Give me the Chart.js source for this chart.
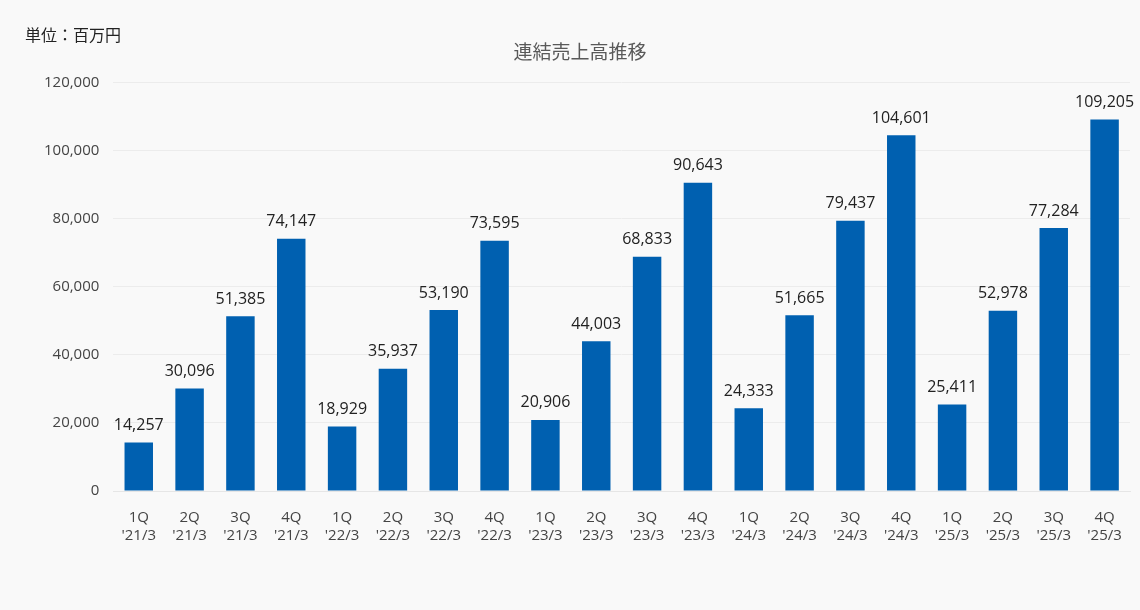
<!DOCTYPE html>
<html>
<head>
<meta charset="utf-8">
<script src="https://cdn.jsdelivr.net/npm/chart.js@4"></script>
<style>
  body { margin: 0; background: #f9f9f9; }
  #wrap { position: relative; width: 1140px; height: 610px; }
  #unit { position: absolute; left: 25px; top: 22px; font: 16px "Noto Sans CJK JP"; color: #222; }
</style>
</head>
<body>
<div id="wrap">
  <div id="unit">単位：百万円</div>
  <canvas id="salesChart" width="1140" height="610"></canvas>
</div>
<script>
const quarters = ["1Q", "2Q", "3Q", "4Q", "1Q", "2Q", "3Q", "4Q", "1Q", "2Q", "3Q", "4Q", "1Q", "2Q", "3Q", "4Q", "1Q", "2Q", "3Q", "4Q"];
const years = ["'21/3", "'21/3", "'21/3", "'21/3", "'22/3", "'22/3", "'22/3", "'22/3", "'23/3", "'23/3", "'23/3", "'23/3", "'24/3", "'24/3", "'24/3", "'24/3", "'25/3", "'25/3", "'25/3", "'25/3"];
const sales = [14257, 30096, 51385, 74147, 18929, 35937, 53190, 73595, 20906, 44003, 68833, 90643, 24333, 51665, 79437, 104601, 25411, 52978, 77284, 109205];

const labels = quarters.map((q, i) => [q, years[i]]);

// value labels above each bar
const valueLabels = {
    id: 'valueLabels',
    afterDatasetsDraw(chart) {
        const ctx = chart.ctx;
        ctx.save();
        ctx.font = '16px "Open Sans"';
        ctx.fillStyle = '#222';
        ctx.textAlign = 'center';
        ctx.textBaseline = 'bottom';
        chart.getDatasetMeta(0).data.forEach((bar, i) => {
            ctx.fillText(sales[i].toLocaleString('en-US'), bar.x, bar.y - 9);
        });
        ctx.restore();
    }
};

function barGradient(context) {
    const el = context.element;
    if (!el || el.base === undefined) return '#0060b0';
    const g = context.chart.ctx.createLinearGradient(0, el.y, 0, el.base);
    g.addColorStop(0, '#0073cf');
    g.addColorStop(1, '#003b78');
    return g;
}

new Chart(document.getElementById('salesChart'), {
    type: 'bar',
    data: {
        labels: labels,
        datasets: [{
            data: sales,
            backgroundColor: barGradient,
            barPercentage: 0.56,
            categoryPercentage: 1
        }]
    },
    options: {
        responsive: false,
        animation: false,
        layout: { padding: { left: 30, right: 10, top: 0, bottom: 55 } },
        scales: {
            y: {
                min: 0, max: 120000,
                ticks: { stepSize: 20000, color: '#444', font: { family: 'Open Sans', size: 15 }, padding: 14,
                    callback: v => v.toLocaleString('en-US') },
                grid: { color: '#ececec', drawTicks: false },
                border: { display: false }
            },
            x: {
                ticks: { color: '#444', font: { family: 'Open Sans', size: 15 }, padding: 10, maxRotation: 0 },
                grid: { display: false },
                border: { color: '#e6e6e6' }
            }
        },
        plugins: {
            legend: { display: false },
            tooltip: { enabled: false },
            title: {
                display: true,
                text: '連結売上高推移',
                color: '#595959',
                font: { family: 'Noto Sans CJK JP', size: 19, weight: 'normal' },
                padding: { top: 40, bottom: 20 }
            }
        }
    },
    plugins: [valueLabels]
});
</script>
</body>
</html>
